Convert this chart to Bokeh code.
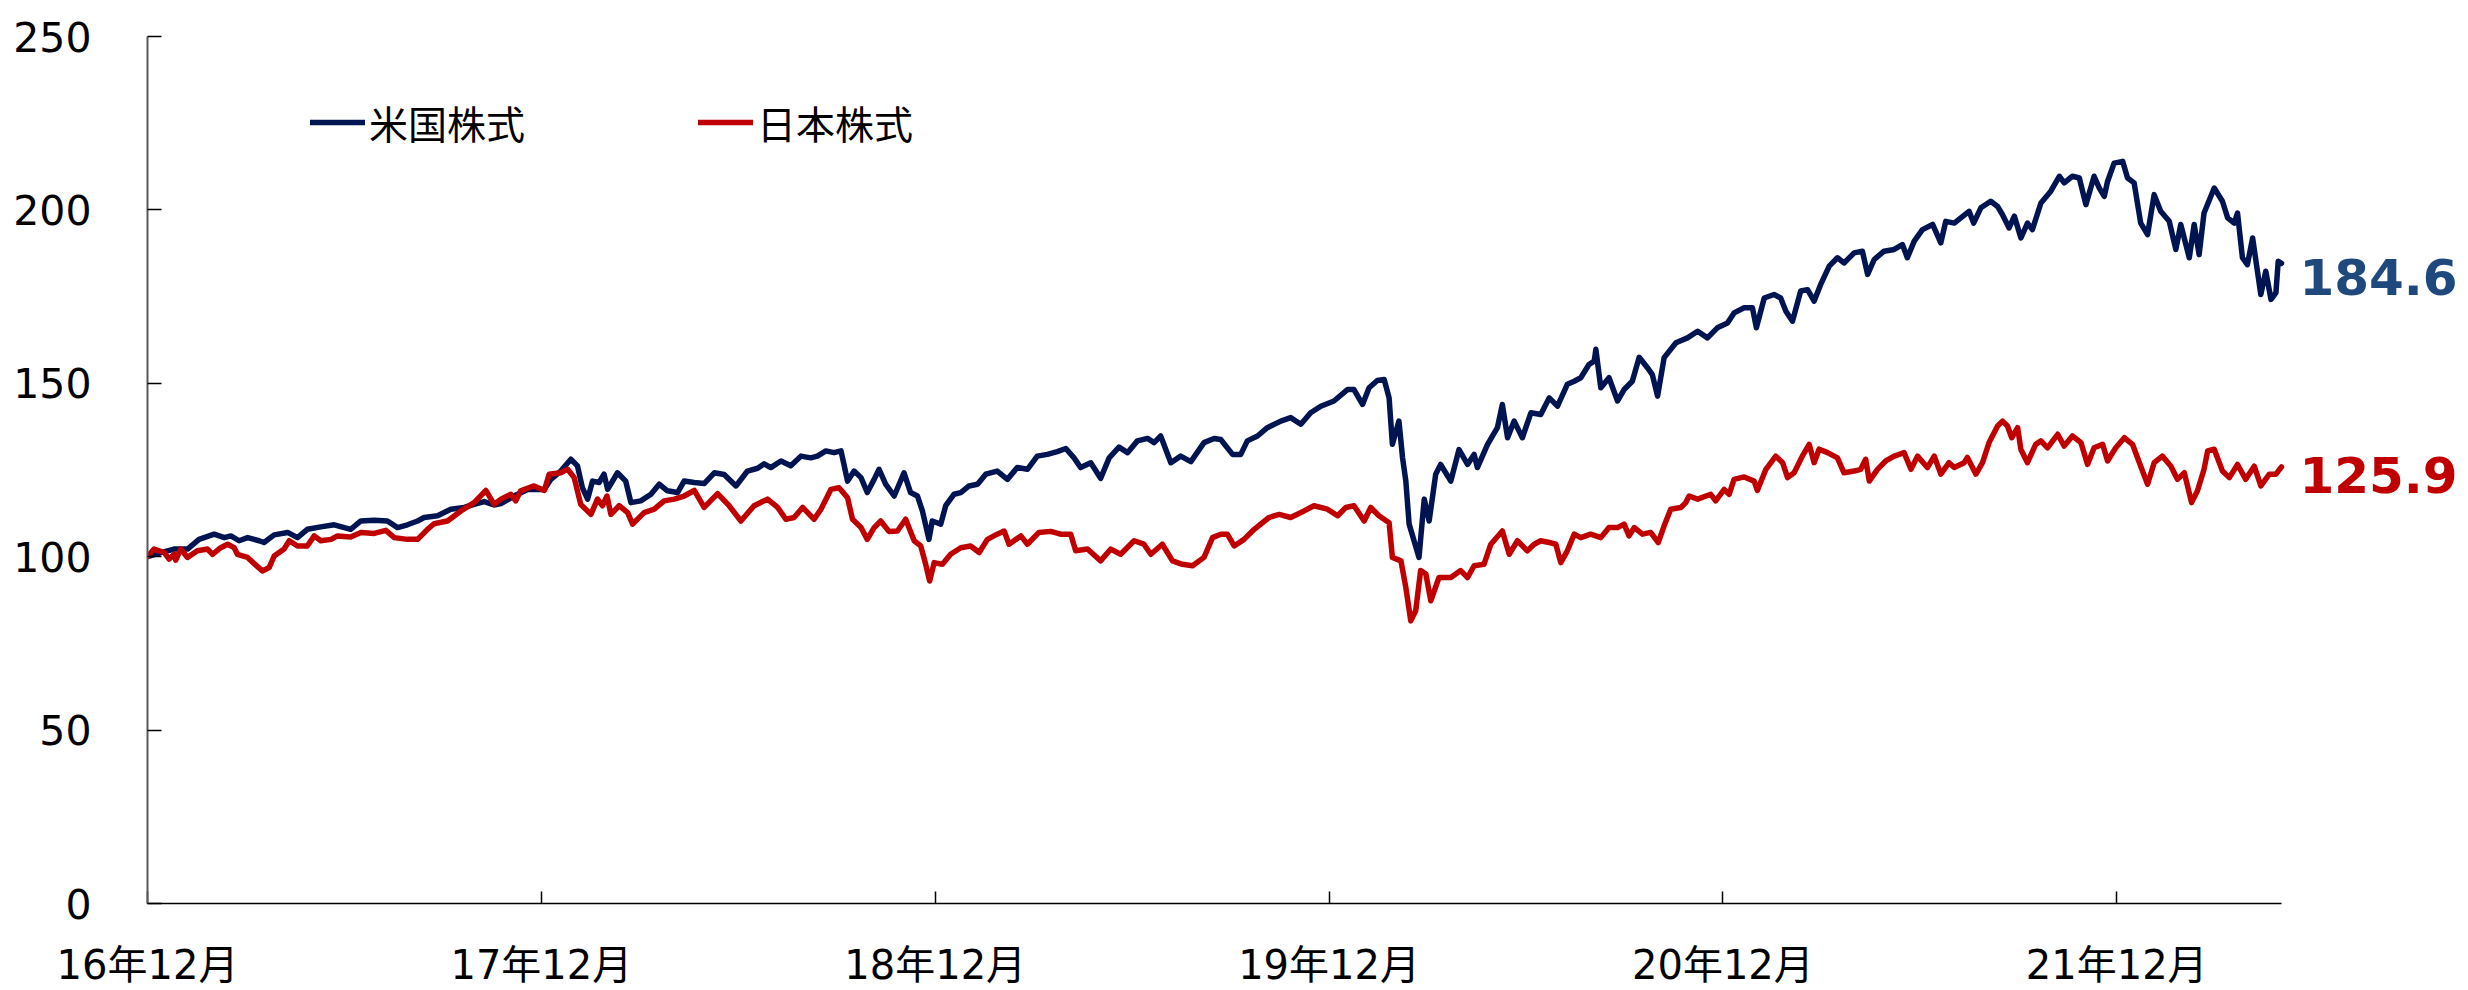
from bokeh.plotting import figure
from bokeh.models import Range1d, FixedTicker, Legend, LegendItem, Label
from bokeh.embed import file_html
from bokeh.resources import INLINE

# ---------------- data ----------------
tick_months = [0, 12, 24, 36, 48, 60]
tick_labels = ["16年12月", "17年12月", "18年12月", "19年12月", "20年12月", "21年12月"]
y_ticks = [0, 50, 100, 150, 200, 250]
series_names = ["米国株式", "日本株式"]
end_labels = ["184.6", "125.9"]

# months since 16年12月 (end of month)
us_month = [
    0.00, 0.41, 0.81, 1.22, 1.57, 2.03, 2.34, 2.54, 2.79, 3.05, 3.40, 3.55, 3.86, 4.27, 4.57,
    4.87, 5.28, 5.69, 6.19, 6.50, 6.91, 7.31, 7.62, 7.92, 8.23, 8.43, 8.84, 9.24, 9.65, 9.95,
    10.26, 10.56, 10.77,
    11.17, 11.58, 12.09, 12.29, 12.59, 12.90, 13.10, 13.25, 13.41, 13.56, 13.76, 13.91, 14.02,
    14.32, 14.57, 14.73, 15.03, 15.34, 15.59, 15.84, 16.15, 16.35, 16.66, 16.96, 17.27, 17.57,
    17.93, 18.28, 18.59, 18.79, 18.99, 19.30, 19.60, 19.91, 20.21, 20.41, 20.67, 20.92, 21.13,
    21.33, 21.53, 21.74,
    21.93, 22.14, 22.29, 22.49, 22.75, 23.05, 23.25, 23.46, 23.61, 23.81, 23.91, 24.17, 24.32,
    24.57, 24.78, 25.03, 25.29, 25.54, 25.89, 26.20, 26.50, 26.81, 27.11, 27.42, 27.72, 27.98,
    28.23, 28.43, 28.74, 29.04, 29.30, 29.60, 29.86, 30.16, 30.47, 30.67, 30.87, 31.18, 31.48,
    31.79, 32.19, 32.50, 32.70,
    33.06, 33.31, 33.51, 33.82, 34.12, 34.53, 34.83, 35.14, 35.44, 35.75, 36.15, 36.56, 36.76,
    37.02, 37.22, 37.47, 37.68, 37.83, 37.93, 38.13, 38.24, 38.34, 38.44, 38.59, 38.74, 38.90,
    39.05, 39.25, 39.40, 39.71, 39.96, 40.22, 40.42, 40.52, 40.83, 41.13, 41.28, 41.44, 41.64,
    41.89, 42.15, 42.45, 42.71, 42.96, 43.26, 43.47, 43.67,
    43.92, 44.08, 44.13, 44.28, 44.53, 44.79, 44.99, 45.24, 45.45, 45.70, 45.85, 46.01, 46.21,
    46.57, 46.92, 47.23, 47.53, 47.83, 48.14, 48.34, 48.65, 48.90, 49.02, 49.26, 49.56, 49.76,
    49.92, 50.12, 50.37, 50.58, 50.78, 50.98, 51.24, 51.49, 51.69, 52.00, 52.25, 52.41, 52.61,
    52.91, 53.22, 53.47, 53.62, 53.83, 54.08, 54.39, 54.64,
    54.79, 55.05, 55.25, 55.50, 55.64, 55.86, 56.16, 56.37, 56.52, 56.72, 56.88, 57.08, 57.28,
    57.43, 57.69, 57.99, 58.25, 58.40, 58.65, 58.86, 59.06, 59.31, 59.47, 59.62, 59.72, 59.92,
    60.18, 60.33, 60.53, 60.73, 60.94, 61.14, 61.34, 61.60, 61.80, 61.95, 62.21, 62.36, 62.51,
    62.66, 62.97, 63.22, 63.38, 63.58, 63.68, 63.83, 63.98, 64.14, 64.39, 64.54, 64.70, 64.85,
    64.92, 65.02,
]
us_index = [
    100.0, 101.2, 102.2, 102.2, 105.0, 106.5, 105.5, 106.0, 104.6, 105.5, 104.6, 104.1, 106.3,
    107.0, 105.5, 107.9, 108.6, 109.2, 107.9, 110.3, 110.5, 110.3, 108.4, 109.2, 110.3, 111.3,
    111.8, 113.7, 114.2, 115.1, 115.9, 114.9, 115.3,
    117.5, 119.4, 119.4, 122.3, 124.7, 128.1, 126.2, 119.9, 116.6, 121.8, 121.4, 123.8, 119.4,
    124.2, 121.8, 115.6, 116.1, 118.0, 120.9, 119.0, 118.5, 121.8, 121.4, 121.1, 124.2, 123.7,
    120.4, 124.7, 125.5, 126.8, 125.7, 127.6, 126.2, 129.0, 128.5, 129.0, 130.5, 130.0, 130.5,
    121.8, 124.7, 122.8,
    118.5, 122.3, 125.2, 120.9, 117.5, 124.2, 118.5, 117.5, 113.2, 105.0, 110.3, 109.4, 114.7,
    118.0, 118.5, 120.4, 120.9, 123.8, 124.7, 122.3, 125.7, 125.2, 129.0, 129.5, 130.3, 131.2,
    128.5, 125.7, 127.1, 122.6, 128.5, 131.6, 130.0, 133.4, 134.1, 132.9, 134.8, 127.1, 129.0,
    127.4, 132.9, 134.1, 133.8,
    129.5, 129.5, 133.4, 134.8, 137.2, 139.1, 140.1, 138.2, 141.5, 143.4, 144.9, 148.2, 148.2,
    143.9, 148.7, 150.8, 151.1, 145.8, 132.4, 139.1, 128.5, 121.8, 109.4, 104.6, 99.8, 116.6,
    110.3, 123.8, 126.6, 121.8, 130.9, 126.6, 129.5, 125.7, 132.4, 137.2, 143.9, 134.3, 139.1,
    134.3, 141.5, 141.0, 145.8, 143.4, 149.7, 150.6, 151.6,
    155.4, 156.4, 159.8, 148.7, 151.6, 144.9, 148.2, 150.6, 157.5, 154.5, 152.5, 146.3, 157.4,
    161.7, 163.1, 165.0, 163.1, 166.0, 167.4, 170.3, 171.8, 171.8, 166.0, 174.6, 175.6, 174.6,
    170.8, 167.9, 176.6, 177.0, 173.7, 178.5, 183.8, 186.2, 184.7, 187.6, 188.1, 181.4, 185.7,
    188.1, 188.6, 190.0, 186.2, 191.0, 194.3, 195.8, 190.5,
    196.7, 196.2, 197.7, 199.6, 196.2, 200.6, 202.5, 201.0, 198.6, 194.8, 198.2, 191.9, 196.2,
    194.3, 202.0, 205.4, 209.7, 207.8, 209.7, 209.2, 201.5, 209.7, 206.3, 203.9, 208.2, 213.5,
    214.0, 209.2, 207.8, 196.2, 192.9, 204.4, 199.6, 196.7, 188.6, 195.8, 186.2, 195.8, 187.1,
    199.1, 206.3, 202.5, 197.7, 196.2, 199.1, 186.2, 184.2, 191.9, 175.6, 182.3, 174.2, 176.1,
    185.2, 184.6,
]

jp_month = [
    0.00, 0.20, 0.51, 0.66, 0.81, 0.86, 1.01, 1.22, 1.52, 1.83, 1.98, 2.23, 2.44, 2.64, 2.74,
    3.05, 3.25, 3.50, 3.71, 3.86, 4.16, 4.32, 4.57, 4.87, 5.08, 5.28, 5.59, 5.79, 6.19, 6.50,
    6.91, 7.26, 7.52, 7.92, 8.23, 8.53, 8.73, 9.14, 9.55, 9.95, 10.31, 10.56, 10.77,
    11.07, 11.22, 11.37, 11.78, 12.09, 12.24, 12.59, 12.80, 13.00, 13.20, 13.51, 13.71, 13.86,
    14.00, 14.12, 14.37, 14.63, 14.78, 15.13, 15.44, 15.74, 16.05, 16.35, 16.66, 16.96, 17.37,
    17.72, 18.08, 18.48, 18.89, 19.20, 19.45, 19.70, 19.96, 20.31, 20.52, 20.82, 21.07, 21.33,
    21.48, 21.74,
    21.93, 22.14, 22.34, 22.59, 22.85, 23.10, 23.36, 23.56, 23.71, 23.83, 23.97, 24.22, 24.47,
    24.78, 25.08, 25.34, 25.59, 25.89, 26.10, 26.25, 26.61, 26.81, 27.16, 27.52, 27.82, 28.13,
    28.28, 28.64, 29.04, 29.35, 29.65, 30.06, 30.36, 30.57, 30.92, 31.23, 31.53, 31.84, 32.19,
    32.45, 32.70,
    32.90, 33.11, 33.41, 33.72, 34.17, 34.48, 34.83, 35.24, 35.54, 35.95, 36.26, 36.51, 36.76,
    37.07, 37.27, 37.52, 37.83, 37.93, 38.19, 38.34, 38.49, 38.64, 38.79, 38.95, 39.10, 39.35,
    39.71, 40.01, 40.22, 40.42, 40.72, 40.93, 41.28, 41.49, 41.74, 42.04, 42.25, 42.45, 42.71,
    42.91, 43.06, 43.26, 43.47, 43.67,
    43.97, 44.28, 44.53, 44.79, 44.99, 45.14, 45.30, 45.55, 45.80, 46.03, 46.21, 46.41, 46.72,
    46.87, 46.97, 47.23, 47.63, 47.78, 48.04, 48.19, 48.34, 48.65, 48.95, 49.05, 49.31, 49.61,
    49.82, 49.97, 50.17, 50.42, 50.63, 50.78, 50.93, 51.19, 51.49, 51.69, 52.00, 52.20, 52.35,
    52.46, 52.71, 52.96, 53.22, 53.52, 53.73, 53.93, 54.23, 54.44, 54.64,
    54.89, 55.05, 55.35, 55.45, 55.71, 55.91, 56.11, 56.37, 56.52, 56.67, 56.80, 56.98, 57.08,
    57.28, 57.53, 57.69, 57.89, 58.20, 58.40, 58.65, 58.91, 59.11, 59.31, 59.57, 59.72, 59.97,
    60.23, 60.48, 60.73, 60.94, 61.14, 61.39, 61.65, 61.85, 62.06, 62.28, 62.46, 62.66, 62.77,
    62.97, 63.22, 63.43, 63.68, 63.93, 64.19, 64.39, 64.65, 64.85, 65.02,
]
jp_index = [
    100.0, 102.2, 101.2, 99.3, 100.7, 99.0, 102.2, 99.8, 101.7, 102.2, 100.7, 102.6, 103.6,
    102.6, 100.7, 99.8, 98.0, 95.9, 96.9, 100.2, 102.2, 104.6, 103.1, 103.1, 106.0, 104.6,
    105.0, 106.0, 105.7, 107.0, 106.7, 107.6, 105.5, 105.0, 105.0, 107.9, 109.5, 110.3, 113.2,
    115.6, 119.1, 115.1, 116.6,
    118.0, 116.1, 119.0, 120.4, 119.1, 123.8, 124.2, 125.2, 122.8, 115.1, 112.2, 116.6, 114.7,
    117.5, 112.2, 114.7, 112.7, 109.4, 112.7, 113.7, 116.1, 116.6, 117.5, 119.1, 114.2, 118.2,
    114.7, 110.3, 114.7, 116.6, 114.2, 110.8, 111.3, 114.2, 110.8, 113.7, 119.4, 119.9, 117.0,
    110.8, 108.4,
    105.0, 108.4, 110.3, 107.3, 107.4, 110.8, 104.6, 103.1, 97.8, 93.0, 98.3, 97.8, 100.7,
    102.6, 103.1, 101.2, 105.0, 106.5, 107.4, 103.6, 106.0, 103.6, 107.0, 107.3, 106.5, 106.5,
    101.7, 102.2, 98.8, 102.2, 100.7, 104.6, 103.6, 100.7, 103.6, 98.8, 97.8, 97.4, 99.8,
    105.5, 106.5,
    106.5, 103.1, 105.0, 107.9, 111.3, 112.2, 111.3, 113.2, 114.7, 113.7, 111.8, 114.2, 114.7,
    110.3, 114.2, 111.8, 109.8, 99.8, 98.8, 91.1, 81.5, 84.4, 96.0, 95.0, 87.3, 94.0,
    94.0, 96.0, 94.0, 97.4, 97.8, 103.6, 107.4, 100.7, 104.6, 101.7, 103.6, 104.6, 104.1,
    103.6, 98.3, 101.7, 106.5, 105.5,
    106.5, 105.5, 108.4, 108.4, 109.4, 106.0, 108.4, 106.5, 107.0, 104.1, 108.9, 113.7, 114.2,
    115.6, 117.5, 116.6, 118.0, 116.1, 119.4, 118.0, 122.3, 123.0, 121.8, 119.1, 125.2, 129.0,
    127.1, 122.8, 124.2, 129.0, 132.4, 127.1, 131.0, 130.0, 128.5, 124.2, 124.7, 125.2, 128.1,
    121.8, 125.2, 127.6, 129.0, 130.0, 125.2, 129.0, 125.7, 129.0, 123.8,
    127.1, 125.7, 127.1, 128.6, 123.8, 127.1, 132.9, 137.7, 139.1, 137.7, 134.3, 137.2, 130.9,
    127.1, 132.4, 133.4, 131.4, 135.3, 131.9, 134.8, 132.9, 126.6, 131.4, 132.4, 127.6, 131.4,
    134.3, 132.4, 126.1, 120.9, 127.1, 129.0, 126.1, 122.3, 124.2, 115.6, 119.0, 125.2, 130.5,
    131.0, 124.7, 122.8, 126.6, 122.3, 126.1, 120.4, 123.8, 123.8, 125.9,
]

# ---------------- styling ----------------
US_COLOR = "#001452"
JP_COLOR = "#C00000"
US_LABEL_COLOR = "#1F497D"
LATIN = "DejaVu Sans, Noto Sans CJK JP"
CJK = "Noto Sans CJK JP"

W, H = 2462, 990
LEFT, TOP = 147, 36
DATA_W, FRAME_H = 2134, 867          # pixel span of the data part of the x axis
x_end = us_month[-1] * (W - LEFT) / DATA_W   # room on the right for end labels

p = figure(width=W, height=H, output_backend="svg", toolbar_location=None,
           x_range=Range1d(0, x_end), y_range=Range1d(0, 250),
           min_border_left=LEFT, min_border_top=TOP,
           min_border_right=0, min_border_bottom=H - TOP - FRAME_H,
           background_fill_color="white", border_fill_color="white")
p.outline_line_color = None
p.grid.visible = False

r_us = p.line(us_month, us_index, line_color=US_COLOR, line_width=5.5,
              line_join="round", line_cap="round")
r_jp = p.line(jp_month, jp_index, line_color=JP_COLOR, line_width=5.5,
              line_join="round", line_cap="round")

# x axis
xa = p.xaxis[0]
xa.bounds = (0, us_month[-1])
xa.ticker = FixedTicker(ticks=tick_months)
xa.major_label_overrides = {m: lab for m, lab in zip(tick_months, tick_labels)}
xa.minor_tick_line_color = None
xa.major_tick_in = 12
xa.major_tick_out = 0
xa.major_tick_line_color = "#000000"
xa.major_tick_line_width = 1.5
xa.axis_line_color = "#000000"
xa.axis_line_width = 1.5
xa.major_label_text_font = LATIN
xa.major_label_text_font_size = "40px"
xa.major_label_text_color = "#000000"
xa.major_label_standoff = 38

# y axis
ya = p.yaxis[0]
ya.ticker = FixedTicker(ticks=y_ticks)
ya.minor_tick_line_color = None
ya.major_tick_in = 14
ya.major_tick_out = 0
ya.major_tick_line_color = "#000000"
ya.major_tick_line_width = 1.5
ya.axis_line_color = "#595959"
ya.axis_line_width = 2
ya.major_label_text_font = LATIN
ya.major_label_text_font_size = "41px"
ya.major_label_text_color = "#000000"
ya.major_label_standoff = 56

# legend
legend = Legend(
    items=[LegendItem(label=series_names[0], renderers=[r_us]),
           LegendItem(label=series_names[1], renderers=[r_jp])],
    orientation="horizontal", location=(163, 753),
    border_line_color=None, background_fill_alpha=0,
    glyph_width=55, glyph_height=40, label_height=40, label_standoff=4,
    spacing=173, padding=0, margin=0,
    label_text_font=CJK, label_text_font_size="39px", label_text_color="#000000",
)
p.add_layout(legend)

# end-value labels
for lab, xs, ys, col, dy in [(end_labels[0], us_month, us_index, US_LABEL_COLOR, 14),
                             (end_labels[1], jp_month, jp_index, JP_COLOR, 8)]:
    p.add_layout(Label(x=xs[-1], y=ys[-1], text=lab, x_offset=18, y_offset=-dy,
                       text_font="DejaVu Sans", text_font_style="bold",
                       text_font_size="50px", text_color=col, text_baseline="middle"))

open("out.html", "w").write(file_html(p, INLINE))
